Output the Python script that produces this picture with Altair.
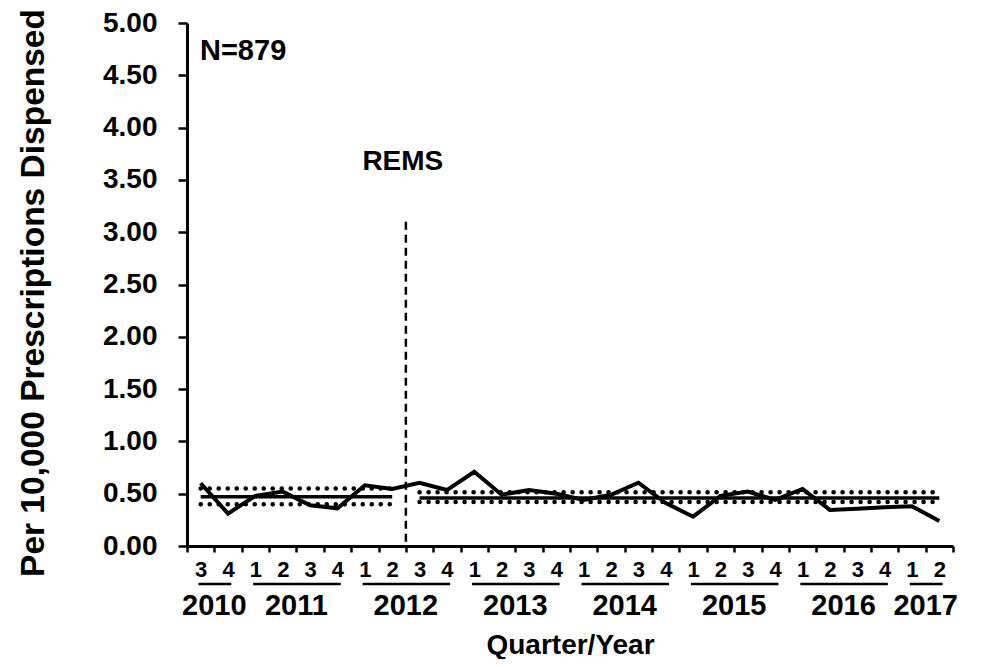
import altair as alt
import pandas as pd

# ---- data ----
years = [2010, 2010,
         2011, 2011, 2011, 2011,
         2012, 2012, 2012, 2012,
         2013, 2013, 2013, 2013,
         2014, 2014, 2014, 2014,
         2015, 2015, 2015, 2015,
         2016, 2016, 2016, 2016,
         2017, 2017]
quarters = [3, 4,
            1, 2, 3, 4,
            1, 2, 3, 4,
            1, 2, 3, 4,
            1, 2, 3, 4,
            1, 2, 3, 4,
            1, 2, 3, 4,
            1, 2]
rates = [0.60, 0.31,
         0.48, 0.52, 0.39, 0.36,
         0.58, 0.545, 0.605, 0.535,
         0.71, 0.49, 0.535, 0.50,
         0.44, 0.49, 0.605, 0.41,
         0.28, 0.48, 0.52, 0.44,
         0.545, 0.345, 0.355, 0.37,
         0.38, 0.24]

rems_index = 8          # REMS starts with 2012 Q3 (9th quarter)
pre_mean, pre_lo, pre_hi = 0.47, 0.40, 0.55
post_mean, post_lo, post_hi = 0.46, 0.42, 0.515
rems_line_top = 3.10
rems_label = "REMS"
n_label = "N=879"
y_ticks = [0, 0.5, 1.0, 1.5, 2.0, 2.5, 3.0, 3.5, 4.0, 4.5, 5.0]

# ---- layout ----
W, H = 766, 523
n = len(rates)
FONT = "Liberation Sans"

df = pd.DataFrame({"pos": [i + 0.5 for i in range(n)], "rate": rates,
                   "year": years, "quarter": quarters})

segs = pd.DataFrame({
    "start": [0.5, 0.5, 0.5, rems_index + 0.5, rems_index + 0.5, rems_index + 0.5],
    "end": [rems_index - 0.5] * 3 + [n - 0.5] * 3,
    "val": [pre_mean, pre_lo, pre_hi, post_mean, post_lo, post_hi],
    "kind": ["mean", "ci", "ci", "mean", "ci", "ci"],
})

yr = df.groupby("year")["pos"].agg(["min", "max", "mean"]).reset_index()
yr["start"] = yr["min"] - 0.08
yr["end"] = yr["max"] + 0.12
yr["label"] = yr["year"].astype(str)

q_arr = "[" + ",".join("'%d'" % q for q in quarters) + "]"
label_expr = "datum.value < %d ? %s[datum.value] : ''" % (n, q_arr)

xscale = alt.Scale(domain=[0, n], nice=False, zero=False)
yscale = alt.Scale(domain=[0, 5], nice=False, zero=True)

x_axis = alt.Axis(values=list(range(n + 1)), labelExpr=label_expr,
                  labelOffset=W / n / 2, labelFlush=False, labelOverlap=False,
                  labelBound=False,
                  tickSize=6, tickWidth=2.5, labelFontSize=22, labelPadding=7,
                  title="Quarter/Year", titleFontSize=28, titleX=383, titleY=107,
                  titleBaseline="alphabetic", titleAlign="center", grid=False)
y_axis = alt.Axis(values=y_ticks, format=".2f", labelFontSize=28, tickSize=9,
                  tickWidth=2.5, labelPadding=21, grid=False, labelOverlap=False,
                  labelFlush=False,
                  title="Per 10,000 Prescriptions Dispensed", titleFontSize=33.5,
                  titleX=-144, titleY=H / 2 + 8, titleAngle=-90,
                  titleBaseline="alphabetic", titleAlign="center")


def X(field):
    return alt.X(field, scale=xscale, axis=x_axis)


def Y(field):
    return alt.Y(field, scale=yscale, axis=y_axis)


line = alt.Chart(df).mark_line(color="black", strokeWidth=4).encode(
    x=X("pos:Q"), y=Y("rate:Q"))

means = alt.Chart(segs).transform_filter("datum.kind == 'mean'").mark_rule(
    color="black", strokeWidth=3.5).encode(x=X("start:Q"), x2="end:Q", y=Y("val:Q"))

cis = alt.Chart(segs).transform_filter("datum.kind == 'ci'").mark_rule(
    color="black", strokeWidth=4.5, strokeDash=[0.1, 8.9], strokeCap="round").encode(
    x=X("start:Q"), x2="end:Q", y=Y("val:Q"))

rems_rule = alt.Chart().mark_rule(color="black", strokeWidth=2.5, strokeDash=[8, 5]).encode(
    x=alt.datum(rems_index, scale=xscale, axis=x_axis),
    y=alt.datum(rems_line_top, scale=yscale, axis=y_axis),
    y2=alt.datum(0))

rems_text = alt.Chart().mark_text(text=rems_label, font=FONT, fontWeight="bold",
                                  fontSize=28, align="center", baseline="alphabetic",
                                  dx=-3, color="black").encode(
    x=alt.datum(rems_index, scale=xscale, axis=x_axis),
    y=alt.datum(3.59, scale=yscale, axis=y_axis))

n_text = alt.Chart().mark_text(text=n_label, font=FONT, fontWeight="bold",
                               fontSize=29, align="left", baseline="alphabetic",
                               color="black").encode(
    x=alt.datum(0.475, scale=xscale, axis=x_axis),
    y=alt.datum(4.65, scale=yscale, axis=y_axis))

underlines = alt.Chart(yr).mark_rule(color="black", strokeWidth=2.5).encode(
    x=X("start:Q"), x2="end:Q", y=alt.value(H + 38))

year_text = alt.Chart(yr).mark_text(font=FONT, fontWeight="bold", fontSize=29,
                                    align="center", baseline="alphabetic",
                                    color="black").encode(
    x=X("mean:Q"), y=alt.value(H + 69), text="label:N")

chart = alt.layer(line, cis, means, rems_rule, rems_text, n_text, underlines, year_text).properties(
    width=W, height=H,
    autosize=alt.AutoSizeParams(type="none"),
    padding={"left": 179, "top": 15, "right": 21, "bottom": 113},
).configure_view(stroke=None).configure_axis(
    domainColor="black", domainWidth=3, tickColor="black", labelColor="black",
    titleColor="black", labelFont=FONT, titleFont=FONT, labelFontWeight="bold",
    titleFontWeight="bold", labelOverlap=False,
)

chart.save("out.html", embed_options={"renderer": "svg", "actions": False})
